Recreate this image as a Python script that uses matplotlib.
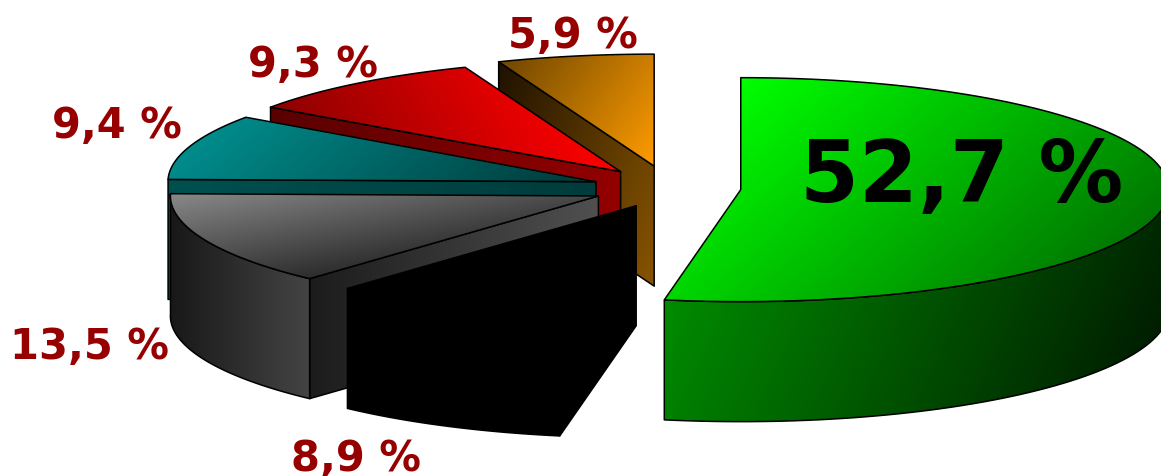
import numpy as np
import matplotlib
matplotlib.use("Agg")
import matplotlib.pyplot as plt
from matplotlib.patches import Polygon
from matplotlib.colors import to_rgb

# Shares, listed counter-clockwise from twelve o'clock, except the large slice,
# which runs clockwise from the same spot.
names = ["orange", "red", "teal", "gray", "black", "green"]
values = [5.9, 9.3, 9.4, 13.5, 8.9, 52.7]
labels = ["5,9 %", "9,3 %", "9,4 %", "13,5 %", "8,9 %", "52,7 %"]
explode = [0.200, 0.187, 0.182, 0.182, 0.178, 0.166]

# Projection of the disc and its thickness, in axes units
CX, CY = 670.0, 189.0
RX, RY = 428.0, 112.0
DEPTH = 120.0

# (direction in degrees, screen-y down; start colour; end colour)
top_fill = {
    "orange": (35, "#6f4600", "#ff9c00"),
    "red": (150, "#ff0000", "#8c0000"),
    "teal": (50, "#008c8c", "#003838"),
    "gray": (80, "#888888", "#2c2c2c"),
    "black": (0, "#000000", "#000000"),
    "green": (48, "#00ff00", "#007800"),
}
cut_fill = {
    "orange": (20, "#201200", "#875400"),
    "red": (10, "#5a0000", "#960000"),
    "teal": (0, "#005050", "#003c3c"),
    "gray": (0, "#1c1c1c", "#505050"),
    "black": (0, "#000000", "#000000"),
}
rim_fill = {
    "gray": (0, "#181818", "#444444"),
    "black": (0, "#000000", "#000000"),
    "green": (25, "#008c00", "#001e00"),
}

EDGE = "#000000"
EDGE_W = 1.1
LABEL_RED = "#960000"

fig = plt.figure(figsize=(11.61, 4.77), dpi=100)
ax = fig.add_axes([0, 0, 1, 1])
ax.set_xlim(0, 1161)
ax.set_ylim(477, 0)
ax.axis("off")


def rim_point(deg, ox, oy):
    """Point on the projected rim; deg runs counter-clockwise from the top."""
    t = np.radians(deg)
    return ox - RX * np.sin(t), oy - RY * np.cos(t)


def shaded(points, spec, z):
    """Fill a polygon with a linear gradient and outline it."""
    angle, c0, c1 = spec
    pts = np.asarray(points)
    x0, y0 = pts.min(axis=0)
    x1, y1 = pts.max(axis=0)
    xs, ys = np.meshgrid(np.linspace(x0, x1, 160), np.linspace(y0, y1, 160))
    d = np.radians(angle)
    proj = xs * np.cos(d) + ys * np.sin(d)
    span = pts[:, 0] * np.cos(d) + pts[:, 1] * np.sin(d)
    f = np.clip((proj - span.min()) / max(span.max() - span.min(), 1e-6), 0, 1)[..., None]
    rgb = (1 - f) * np.array(to_rgb(c0)) + f * np.array(to_rgb(c1))
    img = ax.imshow(rgb, extent=(x0, x1, y1, y0), zorder=z, aspect="auto",
                    interpolation="bilinear")
    patch = Polygon(pts, closed=True, facecolor="none", edgecolor=EDGE,
                    linewidth=EDGE_W, joinstyle="round", zorder=z + 0.1)
    ax.add_patch(patch)
    img.set_clip_path(patch)


total = sum(values)
sweeps = [v / total * 360.0 for v in values]

start = 0.0
for i, name in enumerate(names):
    sweep = sweeps[i]
    z = 2 + i * 2
    if name == "green":
        # The large slice runs clockwise from the top
        a0, a1 = -sweep, 0.0
    else:
        a0, a1 = start, start + sweep
        start = a1

    mid = np.radians((a0 + a1) / 2)
    ox = CX - explode[i] * RX * np.sin(mid)
    oy = CY - explode[i] * RY * np.cos(mid) * 3.82 * 0.26

    arc = np.linspace(a0, a1, 120)
    rim = np.array([rim_point(a, ox, oy) for a in arc])

    # Flat cut on the counter-clockwise side of the slice
    if name in cut_fill:
        ex, ey = rim_point(a1, ox, oy)
        shaded([(ex, ey), (ox, oy), (ox, oy + DEPTH), (ex, ey + DEPTH)],
               cut_fill[name], z)

    # Outer rim where it faces the viewer
    if name in rim_fill:
        cos_vals = np.cos(np.radians(arc))
        front = rim[cos_vals <= 0.03]
        wall = np.vstack([front, (front + [0, DEPTH])[::-1]])
        shaded(wall, rim_fill[name], z + 0.3)

    # Top face
    shaded(np.vstack([[ox, oy], rim]), top_fill[name], z + 0.6)

    weight = "bold"
    del weight

label_x = [508, 248, 52, 10, 291, 800]
label_y = [48, 77, 138, 359, 471, 202]
for i, text in enumerate(labels):
    big = names[i] == "green"
    ax.text(label_x[i], label_y[i], text, family="DejaVu Sans", weight="bold",
            fontsize=61 if big else 30, color="#000000" if big else LABEL_RED,
            ha="left", va="baseline", zorder=30)

fig.savefig("out.png", dpi=100, facecolor="white")
